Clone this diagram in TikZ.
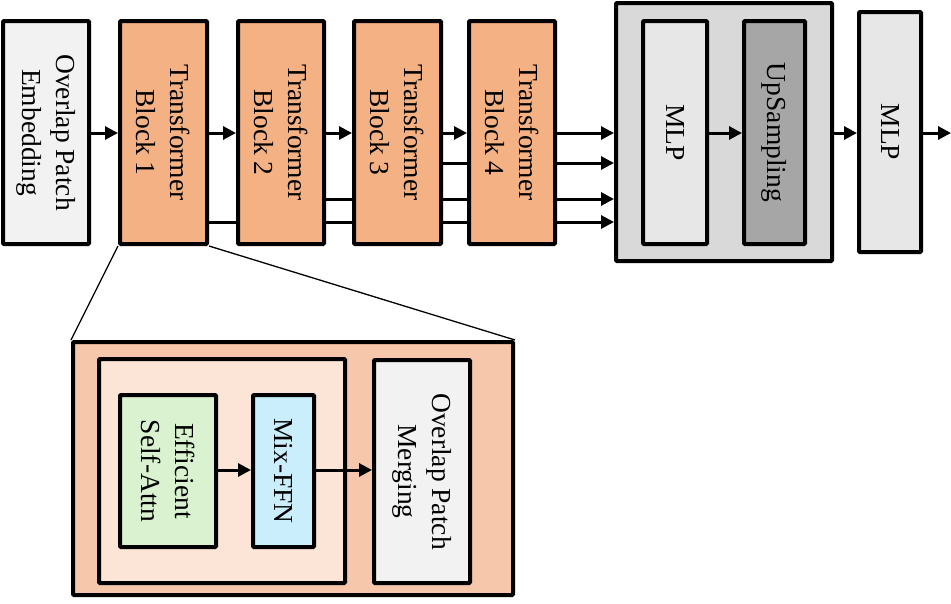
\documentclass[tikz,border=0pt]{standalone}
\usepackage{fontspec}
\setmainfont{Liberation Serif}
\usetikzlibrary{arrows.meta,backgrounds}
\definecolor{cemb}{HTML}{F2F2F2}
\definecolor{ctb}{HTML}{F4B183}
\definecolor{cbig}{HTML}{D9D9D9}
\definecolor{cmlp}{HTML}{E7E7E7}
\definecolor{cup}{HTML}{A6A6A6}
\definecolor{couter}{HTML}{F6C7AA}
\definecolor{cinner}{HTML}{FCE4D6}
\definecolor{cgreen}{HTML}{DAF2D0}
\definecolor{cblue}{HTML}{CAEEFB}
\tikzset{
  blk/.style={draw=black, line width=4pt, rounded corners=1pt, inner sep=0pt},
  lbl/.style={rotate=-90, align=center, inner sep=0pt, font=\fontsize{27.5}{34}\selectfont},
  arr/.style={line width=3pt, -{Triangle[length=13pt,width=13pt]}},
  skip/.style={line width=3pt},
  zoomline/.style={line width=1.3pt}
}
\begin{document}
\begin{tikzpicture}[x=1pt,y=1pt]
\useasboundingbox (0,0) rectangle (951,-603);
% top row
\node[blk, fill=cemb, minimum width=86, minimum height=223] (emb) at (46,-132.5) {};
\node[lbl] (embt) at (emb.center) {Overlap Patch\\Embedding};
\node[blk, fill=ctb, minimum width=87, minimum height=223] (tb1) at (163.5,-132.5) {};
\node[lbl] (tb1t) at (tb1.center) {Transformer\\Block 1};
\node[blk, fill=ctb, minimum width=86, minimum height=223] (tb2) at (281,-132.5) {};
\node[lbl] (tb2t) at (tb2.center) {Transformer\\Block 2};
\node[blk, fill=ctb, minimum width=87, minimum height=223] (tb3) at (397.5,-132.5) {};
\node[lbl] (tb3t) at (tb3.center) {Transformer\\Block 3};
\node[blk, fill=ctb, minimum width=86, minimum height=223] (tb4) at (512,-132.5) {};
\node[lbl] (tb4t) at (tb4.center) {Transformer\\Block 4};
\node[blk, fill=cbig, minimum width=216, minimum height=258] (big) at (724,-132) {};
\node[blk, fill=cmlp, minimum width=64, minimum height=223] (mlp1) at (675,-132.5) {};
\node[lbl] (mlp1t) at (mlp1.center) {MLP};
\node[blk, fill=cup, minimum width=61, minimum height=223] (up) at (774.5,-132.5) {};
\node[lbl] (upt) at (up.center) {UpSampling};
\node[blk, fill=cmlp, minimum width=62, minimum height=240] (mlp2) at (890,-132) {};
\node[lbl] (mlp2t) at (mlp2.center) {MLP};
\coordinate (out) at (951,-133);
% skip connections behind blocks
\begin{scope}[on background layer]
\draw[arr] (tb1.east |- 0,-222) -- (big.west |- 0,-222);
\draw[arr] (tb2.east |- 0,-199) -- (big.west |- 0,-199);
\draw[arr] (tb3.east |- 0,-163) -- (big.west |- 0,-163);
\end{scope}
\draw[arr] (emb.east |- 0,-133) -- (tb1.west |- 0,-133);
\draw[arr] (tb1.east |- 0,-133) -- (tb2.west |- 0,-133);
\draw[arr] (tb2.east |- 0,-133) -- (tb3.west |- 0,-133);
\draw[arr] (tb3.east |- 0,-133) -- (tb4.west |- 0,-133);
\draw[arr] (tb4.east |- 0,-133) -- (big.west |- 0,-133);
\draw[arr] (mlp1.east |- 0,-133) -- (up.west |- 0,-133);
\draw[arr] (big.east |- 0,-133) -- (mlp2.west |- 0,-133);
\draw[arr] (mlp2.east |- 0,-133) -- (out);
% bottom detail
\node[blk, fill=couter, minimum width=440, minimum height=253] (outer) at (293,-468.5) {};
\node[blk, fill=cinner, minimum width=246, minimum height=224] (inner) at (222,-471) {};
\node[blk, fill=cgreen, minimum width=96, minimum height=152] (esa) at (168,-471) {};
\node[lbl] (esat) at (esa.center) {Efficient\\Self-Attn};
\node[blk, fill=cblue, minimum width=61, minimum height=152] (ffn) at (283.5,-471) {};
\node[lbl] (ffnt) at (ffn.center) {Mix-FFN};
\node[blk, fill=cemb, minimum width=96, minimum height=223] (opm) at (422,-471.5) {};
\node[lbl] (opmt) at (opm.center) {Overlap Patch\\Merging};
\draw[arr] (esa.east |- 0,-470) -- (ffn.west |- 0,-470);
\draw[arr] (ffn.east |- 0,-470) -- (opm.west |- 0,-470);
% zoom lines
\draw[zoomline] (tb1.south west) -- (outer.north west);
\draw[zoomline] (tb1.south east) -- (outer.north east);
\end{tikzpicture}
\end{document}
